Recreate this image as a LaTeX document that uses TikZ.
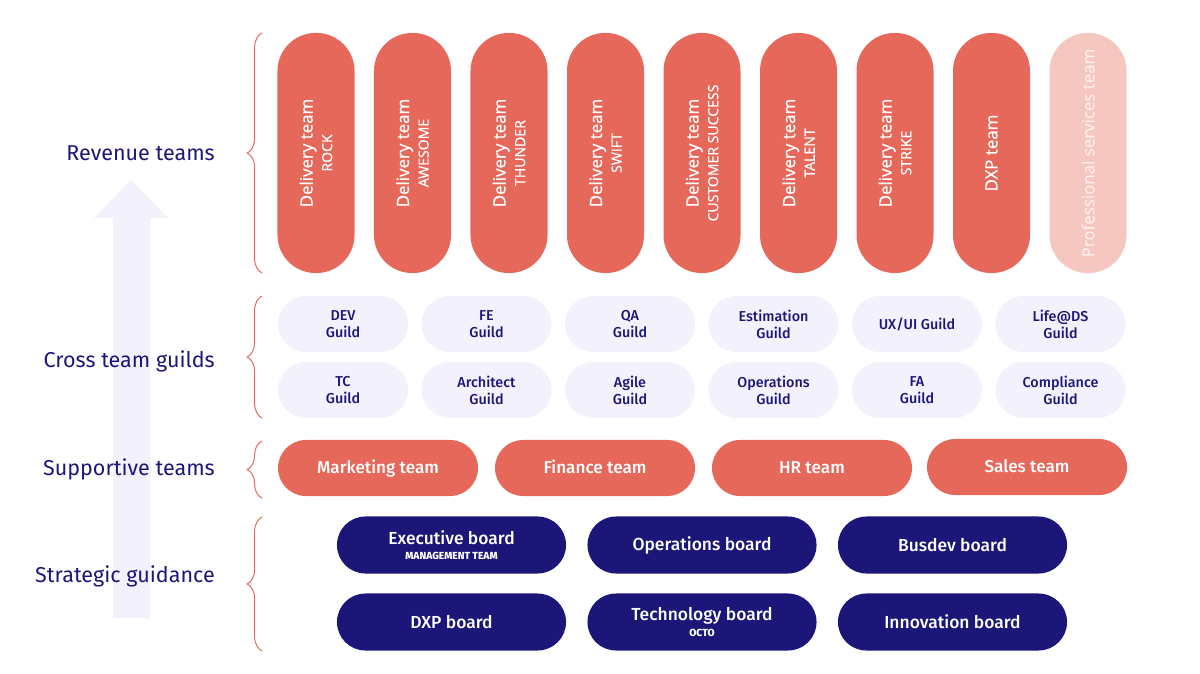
\documentclass[tikz,border=0pt]{standalone}
\usepackage{fontspec}
\setmainfont{Fira Sans}
\newfontfamily\vfont[FakeBold=0.8]{Open Sans}
\newfontfamily\medfont{Fira Sans Medium}
\usetikzlibrary{positioning}
\usetikzlibrary{decorations.pathreplacing}
\definecolor{salmon}{HTML}{E5685B}
\definecolor{blush}{HTML}{F6C6C1}
\definecolor{blushtext}{HTML}{FDEEEC}
\definecolor{lavender}{HTML}{F3F2FC}
\definecolor{navy}{HTML}{1C1678}

\begin{document}
\begin{tikzpicture}[x=0.025cm,y=-0.025cm,
  revenue/.style={rectangle,fill=salmon,text=white,rotate=90,minimum width=6cm,minimum height=1.925cm,rounded corners=0.95cm,align=center,inner sep=0pt,font=\vfont\fontsize{12}{14}\selectfont},
  guild/.style={rectangle,fill=lavender,text=navy,minimum width=3.25cm,minimum height=1.4cm,rounded corners=0.7cm,align=center,inner sep=0pt,font=\medfont\fontsize{10.2}{12}\selectfont},
  support/.style={rectangle,fill=salmon,text=white,minimum width=5cm,minimum height=1.4cm,rounded corners=0.7cm,inner sep=0pt,text height=7.6pt,text depth=0pt,font=\medfont\fontsize{12.2}{14}\selectfont},
  board/.style={rectangle,fill=navy,text=white,minimum width=5.725cm,minimum height=1.425cm,rounded corners=0.71cm,align=center,inner sep=0pt,font=\medfont\fontsize{12.4}{12}\selectfont},
  layer/.style={anchor=east,inner sep=0pt,text=navy,font=\fontsize{15.3}{18}\selectfont},
  brace/.style={draw=salmon,line width=0.7pt,decorate,decoration={brace,amplitude=0.37cm}}]
\useasboundingbox (0,0) rectangle (1200,674);

% upward arrow behind the layer names
\fill[lavender] (113,618) -- (113,218) -- (94,218) -- (131,180) -- (168,218) -- (150,218) -- (150,618) -- cycle;

\node[layer] (Lrev) at (215,153) {Revenue teams};
\node[layer] (Lguild) at (215,361) {Cross team guilds};
\node[layer] (Lsup) at (215,469) {Supportive teams};
\node[layer] (Lstrat) at (215,576) {Strategic guidance};

\draw[brace] (262,273) -- (262,33);
\draw[brace] (262,418) -- (262,296);
\draw[brace] (262,498) -- (262,441);
\draw[brace] (262,651) -- (262,517);

% revenue teams
\node[revenue] (rock) at (316,153) {Delivery team\\{\fontsize{10}{12}\selectfont ROCK}};
\node[revenue] (awesome) at (412.5,153) {Delivery team\\{\fontsize{10}{12}\selectfont AWESOME}};
\node[revenue] (thunder) at (509,153) {Delivery team\\{\fontsize{10}{12}\selectfont THUNDER}};
\node[revenue] (swift) at (605.5,153) {Delivery team\\{\fontsize{10}{12}\selectfont SWIFT}};
\node[revenue] (success) at (702,153) {Delivery team\\{\fontsize{10}{12}\selectfont CUSTOMER SUCCESS}};
\node[revenue] (talent) at (798.5,153) {Delivery team\\{\fontsize{10}{12}\selectfont TALENT}};
\node[revenue] (strike) at (895,153) {Delivery team\\{\fontsize{10}{12}\selectfont STRIKE}};
\node[revenue] (dxpteam) at (991.5,153) {DXP team};
\node[revenue,fill=blush,text=blushtext] (proserv) at (1088,153) {Professional services team};

% cross team guilds
\node[guild] (dev) at (343,324) {DEV\\Guild};
\node[guild] (fe) at (486.5,324) {FE\\Guild};
\node[guild] (qa) at (630,324) {QA\\Guild};
\node[guild] (estim) at (773.5,324) {Estimation\\Guild};
\node[guild] (uxui) at (917,324) {UX/UI Guild};
\node[guild] (lifeds) at (1060.5,324) {Life@DS\\Guild};
\node[guild] (tc) at (343,390) {TC\\Guild};
\node[guild] (arch) at (486.5,390) {Architect\\Guild};
\node[guild] (agile) at (630,390) {Agile\\Guild};
\node[guild] (ops) at (773.5,390) {Operations\\Guild};
\node[guild] (fa) at (917,390) {FA\\Guild};
\node[guild] (compl) at (1060.5,390) {Compliance\\Guild};

% supportive teams
\node[support] (marketing) at (378,468) {Marketing team};
\node[support] (finance) at (595,468) {Finance team};
\node[support] (hr) at (812,468) {HR team};
\node[support] (sales) at (1027,467) {Sales team};

% strategic guidance
\node[board] (exec) at (451.5,545) {Executive board\\[-1pt]{\fontsize{7.3}{9}\selectfont\bfseries MANAGEMENT TEAM}};
\node[board] (opsboard) at (702,545) {Operations board};
\node[board] (busdev) at (952.5,545) {Busdev board};
\node[board] (dxpboard) at (451.5,622) {DXP board};
\node[board] (tech) at (702,622) {Technology board\\[-1pt]{\fontsize{7.3}{9}\selectfont\bfseries OCTO}};
\node[board] (innov) at (952.5,622) {Innovation board};

\end{tikzpicture}
\end{document}
